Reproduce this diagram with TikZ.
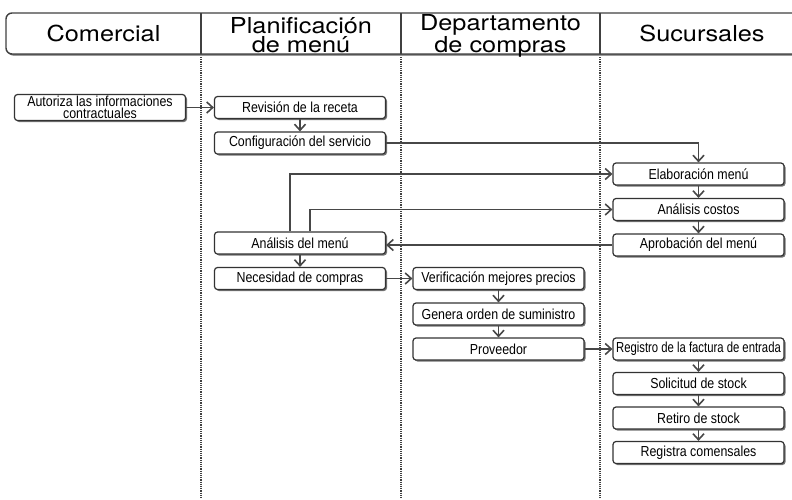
\documentclass[tikz,border=0pt]{standalone}
\usepackage{fontspec}
\setmainfont{Liberation Sans}
\newfontfamily\headfont[FakeStretch=1.15]{TeX Gyre Heros}
\newfontfamily\boxfont[FakeStretch=0.855]{Liberation Sans}
\newfontfamily\tightboxfont[FakeStretch=0.78]{Liberation Sans}
\usetikzlibrary{arrows.meta}
\usetikzlibrary{shadows}

\begin{document}
\begin{tikzpicture}[x=1pt, y=-1pt]
\tikzset{
   node distance = 35.5pt, >={Straight Barb[length=6pt, width=11pt]},
   box/.style = {rectangle, rounded corners = 3pt, draw = black!80, line width = 1.2pt, fill = white, minimum width = 171pt, minimum height = 22pt, inner sep = 1pt, align = center, font = \boxfont\fontsize{14.5}{12}\selectfont, drop shadow = {shadow xshift = 1.5pt, shadow yshift = -1.5pt, fill = black!55, opacity = 1}},
   flow/.style = {->, draw = black!72, line width = 1.6pt},
   lane/.style = {draw = black!75, line width = 1.8pt, dash pattern = on 1.2pt off 1pt},
   title/.style = {anchor = base, align = center, font = \headfont\fontsize{22}{19}\selectfont}
}
\useasboundingbox (0,0) rectangle (792,499);

% header
\filldraw[draw = black!75, fill = white, line width = 1.4pt, rounded corners = 6pt,
   drop shadow = {shadow xshift = 1.3pt, shadow yshift = -1.6pt, fill = black!60, opacity = 1}]
   (792,13) -- (6,13) -- (6,54) -- (792,54);
\foreach \x in {201, 401, 600} {
   \draw[draw = black!75, line width = 1.4pt] (\x,13) -- (\x,54);
   \draw[lane] (\x,57) -- (\x,499);
}
\node[title] (hcom) at (103.5,41.5) {Comercial};
\node[title] (hplan) at (301,52) {Planificación\\de menú};
\node[title] (hcompras) at (500.5,52) {Departamento\\de compras};
\node[title] (hsuc) at (702,41.5) {Sucursales};

% process boxes
\node[box, minimum height = 26pt] (autoriza) at (100,107.5) {Autoriza las informaciones\\contractuales};
\node[box] (revision) at (300,107.5) {Revisión de la receta};
\node[box] (config) [below of = revision] {Configuración del servicio};

\node[box] (elab) at (698.5,174) {Elaboración menú};
\node[box] (costos) [below of = elab] {Análisis costos};
\node[box] (aprob) [below of = costos] {Aprobación del menú};

\node[box] (anmenu) at (300,243) {Análisis del menú};
\node[box] (necesidad) [below of = anmenu] {Necesidad de compras};
\node[box] (verif) [right of = necesidad, node distance = 198.5pt] {Verificación mejores precios};
\node[box] (orden) [below of = verif] {Genera orden de suministro};
\node[box] (prov) [below of = orden, node distance = 35pt] {Proveedor};

\node[box, font = \tightboxfont\fontsize{14.5}{12}\selectfont] (registro) [right of = prov, node distance = 200pt] {Registro de la factura de entrada};
\node[box] (solicitud) [below of = registro, node distance = 34.5pt] {Solicitud de stock};
\node[box] (retiro) [below of = solicitud, node distance = 34.5pt] {Retiro de stock};
\node[box] (comensales) [below of = retiro, node distance = 34.5pt] {Registra comensales};

% connectors
\draw[flow] (autoriza) -- (revision);
\draw[flow] (revision) -- (config);
\draw[flow] (config.east) -| (elab.north);
\draw[flow] ([xshift = -10pt]anmenu.north) |- (elab.west);
\draw[flow] ([xshift = 10pt]anmenu.north) |- (costos.west);
\draw[flow] (elab) -- (costos);
\draw[flow] (costos) -- (aprob);
\draw[flow] (aprob.west) -- (aprob.west -| anmenu.east);
\draw[flow] (anmenu) -- (necesidad);
\draw[flow] (necesidad) -- (verif);
\draw[flow] (verif) -- (orden);
\draw[flow] (orden) -- (prov);
\draw[flow] (prov) -- (registro);
\draw[flow] (registro) -- (solicitud);
\draw[flow] (solicitud) -- (retiro);
\draw[flow] (retiro) -- (comensales);

\end{tikzpicture}
\end{document}
